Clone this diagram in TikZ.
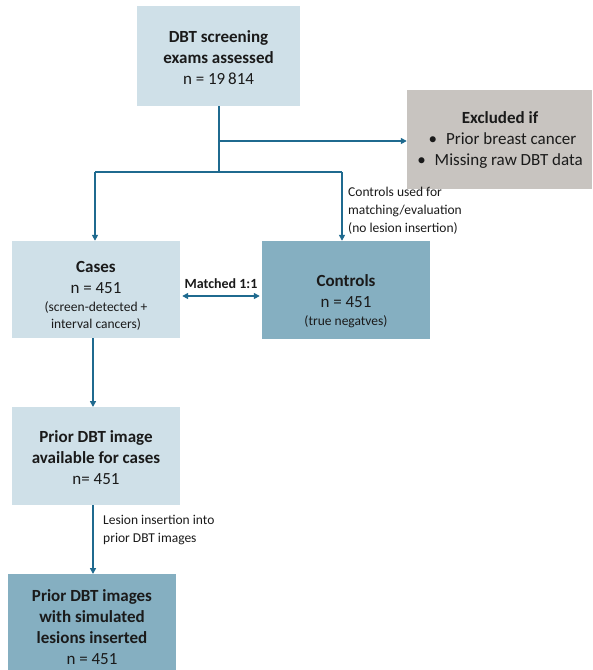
\documentclass[tikz,border=0pt]{standalone}
\usepackage{fontspec}
\setmainfont{Carlito}
\usetikzlibrary{arrows.meta,calc}
\definecolor{lightbox}{HTML}{CFE0E8}
\definecolor{darkbox}{HTML}{85AFC1}
\definecolor{greybox}{HTML}{C8C4C0}
\definecolor{conn}{HTML}{1F6A8F}
\definecolor{txtcol}{HTML}{1A1A1A}
\tikzset{
  box/.style={rectangle, draw=none, inner sep=0pt},
  lbox/.style={box, fill=lightbox},
  dbox/.style={box, fill=darkbox},
  gbox/.style={box, fill=greybox},
  txt/.style={align=center, text=txtcol, inner sep=0pt, font=\fontsize{17}{21}\selectfont},
  lab/.style={align=left, text=txtcol, inner sep=0pt, font=\fontsize{13.5}{18}\selectfont},
  conn/.style={draw=conn, line width=1.8pt},
  arr/.style={conn, -{Triangle[length=6pt,width=6pt]}},
  darr/.style={conn, {Triangle[length=6pt,width=6pt]}-{Triangle[length=6pt,width=6pt]}},
}
\newcommand{\sm}{\fontsize{13.5}{17}\selectfont}
\begin{document}
\begin{tikzpicture}[x=1pt,y=-1pt]
\useasboundingbox (0,0) rectangle (593,670);
% boxes
\node[lbox, minimum width=163pt, minimum height=100pt] (screen) at (218.5,56) {};
\node[txt] (screenT) at (218.5,58) {\textbf{DBT screening}\\\textbf{exams assessed}\\n = 19\,814};
\node[gbox, minimum width=185pt, minimum height=99pt] (excl) at (499.5,139.5) {};
\node[txt] (exclT) at (500,140) {\textbf{Excluded if}\\\hspace{5pt}\textbullet\hspace{9pt}Prior breast cancer\\\textbullet\hspace{9pt}Missing raw DBT data};
\node[lbox, minimum width=168pt, minimum height=97pt] (cases) at (96,289.5) {};
\node[txt] (casesT) at (96,296) {\textbf{Cases}\\n = 451\\[-3pt]{\sm (screen-detected +}\\[-4pt]{\sm interval cancers)}};
\node[dbox, minimum width=168pt, minimum height=98pt] (controls) at (346,290) {};
\node[txt] (controlsT) at (346,301) {\textbf{Controls}\\n = 451\\[-3pt]{\sm (true negatves)}};
\node[lbox, minimum width=168pt, minimum height=98pt] (prior) at (96,456) {};
\node[txt] (priorT) at (96,458) {\textbf{Prior DBT image}\\\textbf{available for cases}\\n= 451};
\node[dbox, minimum width=168pt, minimum height=96pt] (final) at (92,622) {};
\node[txt] (finalT) at (92,627) {\textbf{Prior DBT images}\\\textbf{with simulated}\\\textbf{lesions inserted}\\n = 451};
% coordinates
\coordinate (top) at (219,106);
\coordinate (mid) at (219,141);
\coordinate (split) at (219,172);
\coordinate (sl) at (95,172);
\coordinate (sr) at (342,172);
% connectors
\draw[conn] (top) -- (split);
\draw[arr] (mid) -- (mid -| excl.west);
\draw[conn] (sl) -- (sr);
\draw[arr] (sl) -- (sl |- cases.north);
\draw[arr] (sr) -- (sr |- controls.north);
\draw[darr] ($(cases.east)+(2,6.5)$) -- ($(controls.west)+(-2,6)$);
\draw[arr] (93,338) -- (93,407);
\draw[arr] (93,505) -- (93,574);
% labels
\node[lab, anchor=north west] (lctrl) at (348,187) {Controls used for\\matching/evaluation\\(no lesion insertion)};
\node[lab, font=\bfseries\fontsize{14}{16}\selectfont, anchor=center] (lmatch) at (221,284) {Matched 1:1};
\node[lab, anchor=west] (lles) at (103,530) {Lesion insertion into\\prior DBT images};
\end{tikzpicture}
\end{document}
